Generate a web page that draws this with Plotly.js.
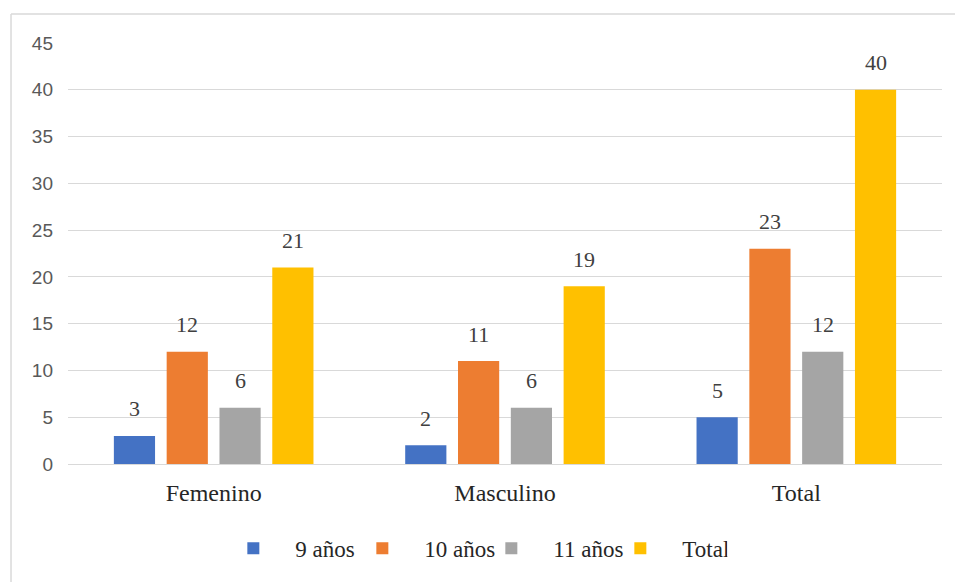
<!DOCTYPE html>
<html>
<head>
<meta charset="utf-8">
<script src="https://cdn.plot.ly/plotly-3.0.1.min.js"></script>
<style>
  html, body { margin: 0; padding: 0; background: #ffffff; }
  #chart { width: 955px; height: 582px; }
</style>
</head>
<body>
<div id="chart"></div>
<script>
// Grupos del eje X
const categories = ['Femenino', 'Masculino', 'Total'];

// Series por edad
const seriesNames = ['9 años', '10 años', '11 años', 'Total'];
const nueveAnos = [3, 2, 5];
const diezAnos = [12, 11, 23];
const onceAnos = [6, 6, 12];
const totalAnos = [21, 19, 40];

// Marcas del eje Y
const yTicks = [0, 5, 10, 15, 20, 25, 30, 35, 40, 45];

const seriesValues = [nueveAnos, diezAnos, onceAnos, totalAnos];
const seriesColors = ['#4472C4', '#ED7D31', '#A5A5A5', '#FFC000'];

const serif = 'Liberation Serif, Times New Roman, serif';
const sans = 'Liberation Sans, Arial, sans-serif';

const traces = seriesValues.map((vals, i) => ({
  type: 'bar',
  name: seriesNames[i],
  x: categories,
  y: vals,
  marker: { color: seriesColors[i], line: { width: 0 } },
  hoverinfo: 'skip'
}));

// Etiquetas de valor sobre cada barra, colocadas con las mismas escalas
const nSeries = seriesValues.length;
const bargap = 0.275;
const annotations = [];
seriesValues.forEach((vals, i) => {
  vals.forEach((v, j) => {
    const slot = (1 - bargap) / nSeries;
    const offset = -(1 - bargap) / 2 + slot * (i + 0.5);
    annotations.push({
      x: j + offset,
      y: v,
      xref: 'x',
      yref: 'y',
      text: String(v),
      showarrow: false,
      yanchor: 'middle',
      yshift: 27,
      font: { family: serif, size: 22, color: '#404040' }
    });
  });
});

const layout = {
  width: 955,
  height: 582,
  margin: { l: 68, r: 13, t: 43, b: 118 },
  paper_bgcolor: '#ffffff',
  plot_bgcolor: '#ffffff',
  barmode: 'group',
  bargap: bargap,
  bargroupgap: 0.22,
  showlegend: true,
  legend: {
    orientation: 'h',
    x: 0.164,
    xanchor: 'left',
    y: -0.2,
    yanchor: 'middle',
    itemwidth: 74,
    entrywidth: 40,
    entrywidthmode: 'pixels',
    traceorder: 'normal',
    font: { family: serif, size: 23, color: '#262626' },
    bgcolor: 'rgba(0,0,0,0)'
  },
  xaxis: {
    type: 'category',
    tickfont: { family: serif, size: 24, color: '#262626' },
    ticks: '',
    showline: false,
    showgrid: false,
    ticklabelstandoff: 12,
    fixedrange: true
  },
  yaxis: {
    range: [0, 45],
    tickvals: yTicks,
    ticktext: yTicks.map(String),
    tickfont: { family: sans, size: 19, color: '#595959' },
    ticks: '',
    showline: false,
    showgrid: true,
    gridcolor: '#d9d9d9',
    gridwidth: 1,
    zeroline: true,
    zerolinecolor: '#d9d9d9',
    zerolinewidth: 1,
    ticklabelstandoff: 14,
    fixedrange: true
  },
  annotations: annotations,
  shapes: [
    // Borde del área del gráfico
    { type: 'line', xref: 'paper', yref: 'paper', x0: -0.0652, x1: -0.0652, y0: -0.29, y1: 1.069,
      line: { color: '#d9d9d9', width: 1.5 } },
    { type: 'line', xref: 'paper', yref: 'paper', x0: -0.0652, x1: 1.015, y0: 1.069, y1: 1.069,
      line: { color: '#d9d9d9', width: 1.5 } }
  ]
};

Plotly.newPlot('chart', traces, layout, { displayModeBar: false, staticPlot: true });
</script>
</body>
</html>
